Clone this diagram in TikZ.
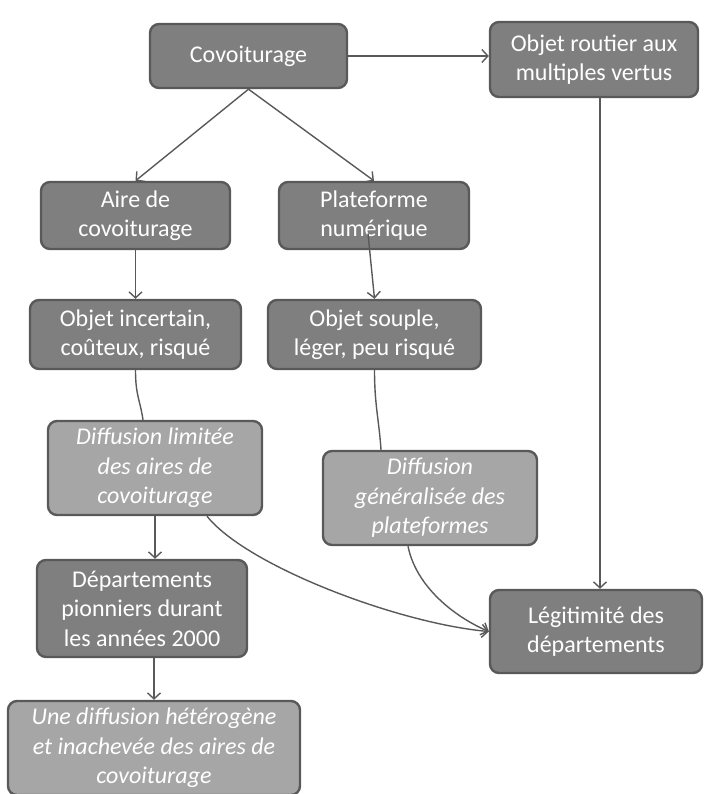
\documentclass[tikz,border=0pt]{standalone}
\usepackage{fontspec}
\setmainfont{Carlito}
\usetikzlibrary{arrows.meta,calc}
\definecolor{boxdark}{HTML}{7F7F7F}
\definecolor{boxlight}{HTML}{A6A6A6}
\definecolor{edgegray}{HTML}{595959}
\begin{document}
\begin{tikzpicture}[x=1pt,y=-1pt,
  box/.style={draw=edgegray, line width=2.4pt, rounded corners=9pt, text=white, align=center, inner sep=0pt},
  dark/.style={box, fill=boxdark, font=\fontsize{24}{29.5}\selectfont},
  light/.style={box, fill=boxlight, font=\fontsize{24}{29.5}\selectfont\itshape},
  link/.style={draw=edgegray, line width=1.4pt},
  arr/.style={link, -{Straight Barb[length=6pt,width=13pt,line width=1.4pt]}}
]
\useasboundingbox (0,0) rectangle (704,794);

\node[dark, minimum width=197pt, minimum height=64pt] (cov) at (248.5,56) {Covoiturage};
\node[dark, minimum width=208pt, minimum height=75pt] (obj) at (594,59.5) {Objet routier aux\\multiples vertus};
\node[dark, minimum width=189pt, minimum height=67pt] (aire) at (135.5,215.5) {Aire de\\covoiturage};
\node[dark, minimum width=190pt, minimum height=67pt] (plat) at (374,215.5) {Plateforme\\numérique};
\node[dark, minimum width=211pt, minimum height=69pt] (inc) at (135.5,334.5) {Objet incertain,\\coûteux, risqué};
\node[dark, minimum width=213pt, minimum height=69pt] (sou) at (374.5,334.5) {Objet souple,\\léger, peu risqué};
\node[light, minimum width=214pt, minimum height=94pt] (dlim) at (155,468) {Diffusion limitée\\des aires de\\covoiturage};
\node[light, minimum width=214pt, minimum height=94pt] (dgen) at (430,498) {Diffusion\\généralisée des\\plateformes};
\node[dark, minimum width=210pt, minimum height=97pt] (dep) at (142,608.5) {Départements\\pionniers durant\\les années 2000};
\node[dark, minimum width=212pt, minimum height=83pt] (leg) at (596,631.5) {Légitimité des\\départements};
\node[light, minimum width=292pt, minimum height=94pt] (une) at (154,748) {Une diffusion hétérogène\\et inachevée des aires de\\covoiturage};

\coordinate (platin) at ($(plat.center)+(-6,18)$);
\coordinate (objout) at ($(obj.south)+(6,0)$);
\coordinate (dlimout) at ($(dlim.south)+(52,0)$);
\coordinate (dgenout) at ($(dgen.south)+(-22,0)$);
\coordinate (dlimin) at ($(dlim.north)+(-12,0)$);
\coordinate (dgenin) at ($(dgen.north)+(-49,0)$);

\draw[arr] (cov.east) -- (obj.west |- cov.east);
\draw[arr] (cov.south) -- (aire.north);
\draw[arr] (cov.south) -- (plat.north);
\draw[arr] (aire.south) -- (inc.north);
\draw[arr] (platin) -- (sou.north);
\draw[link] (inc.south) .. controls +(0,25) and +(-3,-20) .. (dlimin);
\draw[link] (sou.south) .. controls +(0,35) and +(-2,-30) .. (dgenin);
\draw[arr] (dlim.south) -- (dlim.south |- dep.north);
\draw[arr] (une.north |- dep.south) -- (une.north);
\draw[arr] (dlimout) .. controls +(40,50) and +(-90,-8) .. (leg.west);
\draw[arr] (dgenout) .. controls +(8,40) and +(-35,-15) .. (leg.west);
\draw[arr] (objout) -- (objout |- leg.north);
\end{tikzpicture}
\end{document}
